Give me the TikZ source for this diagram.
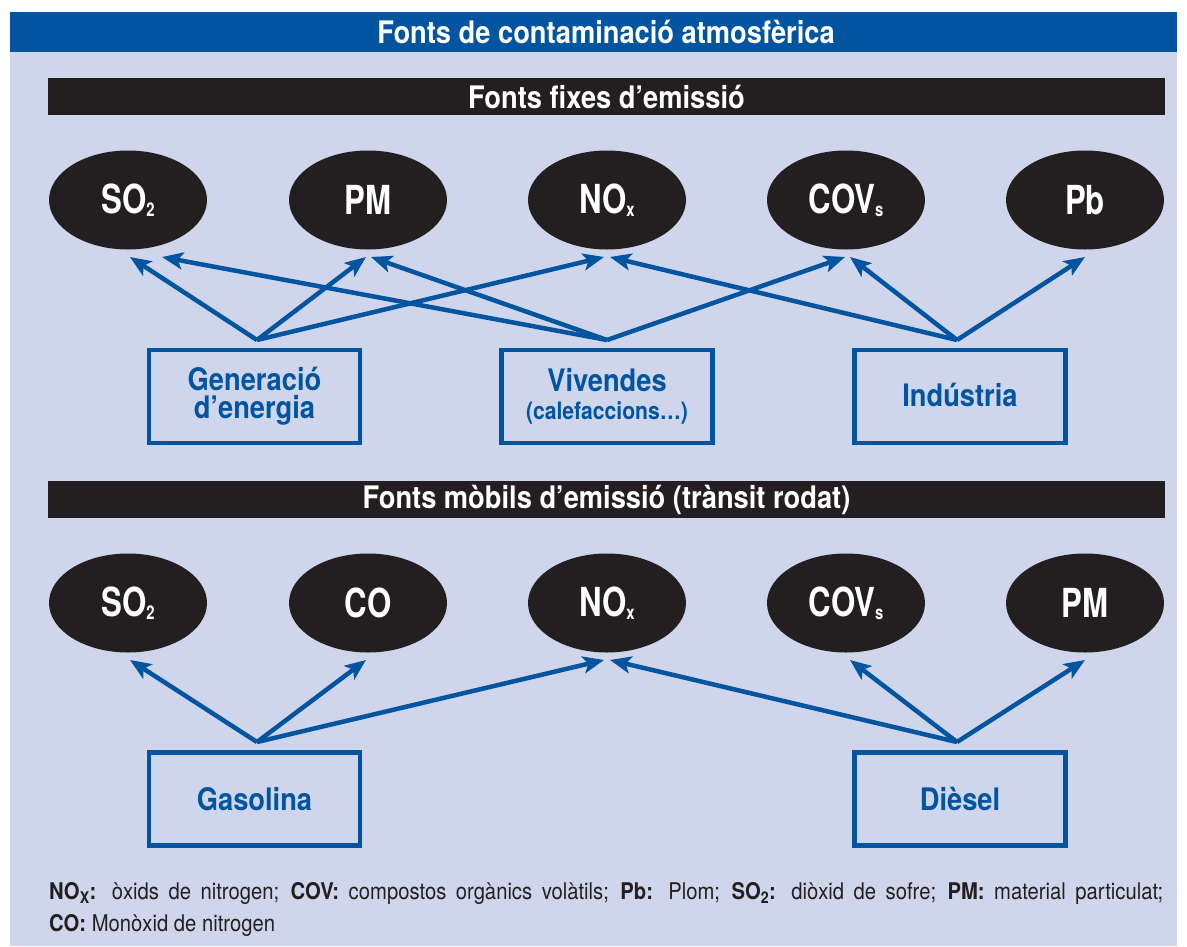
\documentclass[tikz,border=0pt]{standalone}
\usepackage{fontspec}
\setmainfont[FakeStretch=0.88]{TeX Gyre Heros}
\newfontfamily\narrowfont[FakeStretch=0.78]{TeX Gyre Heros}
\usetikzlibrary{shapes.geometric,arrows.meta}
\definecolor{bgl}{HTML}{CFD6EB}
\definecolor{tblue}{HTML}{0054A0}
\definecolor{tblack}{HTML}{231F20}
\newcommand{\sbs}[1]{\raisebox{-3pt}{\fontsize{19}{19}\selectfont #1}}
\begin{document}
\begin{tikzpicture}[x=1pt,y=-1pt,
  gas/.style={ellipse, fill=tblack, minimum width=158pt, minimum height=99pt, inner sep=0pt, text=white, font=\narrowfont\bfseries\fontsize{40}{40}\selectfont},
  src/.style={draw=tblue, line width=4.5pt, minimum width=211pt, minimum height=93pt, inner sep=0pt, text=tblue, align=center, font=\bfseries\fontsize{31}{28}\selectfont},
  barbox/.style={fill=tblack, minimum width=1117pt, minimum height=37pt, inner sep=0pt, text=white, font=\bfseries\fontsize{31}{31}\selectfont},
  emit/.style={draw=tblue, line width=4.5pt, -{Stealth[length=21pt,width=17pt,inset=5pt]}}
]
\useasboundingbox (0,0) rectangle (1187,946);
\fill[white] (0,0) rectangle (1187,946);
\fill[bgl] (10,12) rectangle (1177,946);
\fill[tblue] (10,12) rectangle (1177,52);
\node[inner sep=0pt, text=white, font=\bfseries\fontsize{31}{31}\selectfont] (title) at (606,32) {Fonts de contaminació atmosfèrica};

% fixed sources
\node[barbox] (bar1) at (606.5,96.5) {Fonts fixes d’emissió};
\node[gas] (s1) at (128,200) {SO\sbs{2}};
\node[gas] (s2) at (368,200) {PM};
\node[gas] (s3) at (607,200) {NO\sbs{x}};
\node[gas] (s4) at (846,200) {COV\sbs{s}};
\node[gas] (s5) at (1085,200) {Pb};

\node[src] (gen) at (254.5,396.5) {Generació\\d’energia};
\node[src] (viv) at (607,396.5) {Vivendes\\{\fontsize{24}{31}\selectfont (calefaccions…)}};
\node[src] (ind) at (960,396.5) {\raisebox{3pt}{Indústria}};

\coordinate (go) at (257,340);
\coordinate (vo) at (607,340);
\coordinate (io) at (957,340);
\coordinate (s1a) at (130,257);
\coordinate (s1b) at (162,257);
\coordinate (s2a) at (366,257);
\coordinate (s2b) at (371,257);
\coordinate (s3a) at (604,257);
\coordinate (s3b) at (610,257);
\coordinate (s4a) at (845,257);
\coordinate (s4b) at (850,257);
\coordinate (s5a) at (1085,257);

\draw[emit] (go) -- (s1a);
\draw[emit] (go) -- (s2a);
\draw[emit] (go) -- (s3a);
\draw[emit] (vo) -- (s1b);
\draw[emit] (vo) -- (s2b);
\draw[emit] (vo) -- (s4a);
\draw[emit] (io) -- (s3b);
\draw[emit] (io) -- (s4b);
\draw[emit] (io) -- (s5a);

% mobile sources
\node[barbox] (bar2) at (606.5,499.5) {Fonts mòbils d’emissió (trànsit rodat)};
\node[gas] (m1) at (128,603) {SO\sbs{2}};
\node[gas] (m2) at (368,603) {CO};
\node[gas] (m3) at (607,603) {NO\sbs{x}};
\node[gas] (m4) at (846,603) {COV\sbs{s}};
\node[gas] (m5) at (1085,603) {PM};

\node[src] (gasol) at (254.5,799) {Gasolina};
\node[src] (dies) at (960,799) {Dièsel};

\coordinate (gso) at (257,742);
\coordinate (dso) at (957,742);
\coordinate (m1a) at (130,660);
\coordinate (m2a) at (366,660);
\coordinate (m3a) at (604,660);
\coordinate (m3b) at (610,660);
\coordinate (m4a) at (850,660);
\coordinate (m5a) at (1085,660);

\draw[emit] (gso) -- (m1a);
\draw[emit] (gso) -- (m2a);
\draw[emit] (gso) -- (m3a);
\draw[emit] (dso) -- (m3b);
\draw[emit] (dso) -- (m4a);
\draw[emit] (dso) -- (m5a);

\node[anchor=north west, inner sep=0pt, text width=1114pt, align=justify, text=tblack, font=\fontsize{23}{32}\selectfont] (foot) at (49,877) {\strut\textbf{NO\textsubscript{X}:} òxids de nitrogen; \textbf{COV:} compostos orgànics volàtils; \textbf{Pb:} Plom; \textbf{SO\textsubscript{2}:} diòxid de sofre; \textbf{PM:} material particulat;\linebreak \textbf{CO:} Monòxid de nitrogen};
\end{tikzpicture}
\end{document}
